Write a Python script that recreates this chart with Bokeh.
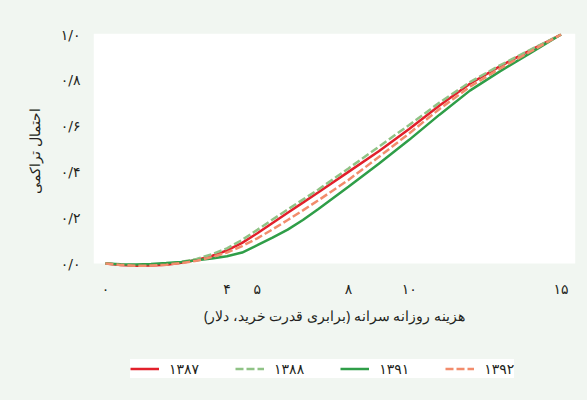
from bokeh.plotting import figure
from bokeh.layouts import column
from bokeh.models import FixedTicker, Legend, LegendItem, BoxAnnotation, Range1d
from bokeh.embed import file_html
from bokeh.resources import INLINE

# ---- data ----
x_vals = [0, 0.5, 1, 1.5, 2, 2.5, 3, 3.5, 4, 4.5, 5, 5.5, 6, 6.5, 7, 8, 9, 10, 11, 12, 13, 14, 15]
y_1387 = [0.0, -0.006, -0.010, -0.009, -0.005, 0.003, 0.015, 0.033, 0.057, 0.090, 0.132, 0.177,
          0.222, 0.266, 0.310, 0.400, 0.490, 0.587, 0.690, 0.785, 0.862, 0.932, 1.0]
y_1388 = [0.0, -0.005, -0.008, -0.006, -0.002, 0.007, 0.020, 0.040, 0.066, 0.103, 0.147, 0.192,
          0.236, 0.279, 0.322, 0.415, 0.510, 0.605, 0.703, 0.792, 0.866, 0.934, 1.0]
y_1391 = [0.0, -0.003, -0.004, -0.002, 0.002, 0.007, 0.014, 0.022, 0.032, 0.048, 0.080, 0.113,
          0.148, 0.190, 0.237, 0.335, 0.436, 0.540, 0.650, 0.755, 0.840, 0.920, 1.0]
y_1392 = [0.0, -0.006, -0.010, -0.009, -0.005, 0.002, 0.012, 0.028, 0.048, 0.076, 0.110, 0.149,
          0.190, 0.232, 0.275, 0.365, 0.465, 0.568, 0.675, 0.772, 0.852, 0.926, 1.0]

series_labels = ["۱۳۸۷", "۱۳۸۸", "۱۳۹۱", "۱۳۹۲"]

x_ticks = [0, 4, 5, 8, 10, 15]
x_tick_labels = ["۰", "۴", "۵", "۸", "۱۰", "۱۵"]
y_ticks = [0, 0.2, 0.4, 0.6, 0.8, 1]
y_tick_labels = ["۰/۰", "۰/۲", "۰/۴", "۰/۶", "۰/۸", "۱/۰"]

x_title = "هزینه روزانه سرانه (برابری قدرت خرید، دلار)"
y_title = "احتمال تراکمی"

# ---- style ----
FONT = "DejaVu Sans"
LFONT = "Noto Sans"
BG = "#f1f6f1"
TXT = "#231f20"
RED = "#e2202b"
LGREEN = "#90c386"
GREEN = "#2f9e48"
SALMON = "#f28c6c"
styles = [dict(line_color=RED, line_width=2.5),
          dict(line_color=LGREEN, line_width=2.5, line_dash="8 3"),
          dict(line_color=GREEN, line_width=2.5),
          dict(line_color=SALMON, line_width=2.5, line_dash="8 3")]
all_series = [y_1387, y_1388, y_1391, y_1392]

# ---- main chart ----
p = figure(width=587, height=338,
           x_range=Range1d(-0.395, 15.477), y_range=Range1d(-0.0218, 1.0044),
           output_backend="svg", toolbar_location=None,
           min_border_left=93, min_border_right=12, min_border_top=33, min_border_bottom=70)
p.background_fill_color = BG
p.border_fill_color = BG
p.outline_line_color = None
p.xgrid.visible = False
p.ygrid.visible = False

p.add_layout(BoxAnnotation(bottom=0, fill_color="white", fill_alpha=1.0,
                           line_color=None, level="underlay"))

for ys, st in zip(all_series, styles):
    p.line(x_vals, ys, **st)

xa = p.xaxis[0]
ya = p.yaxis[0]
xa.ticker = FixedTicker(ticks=x_ticks)
ya.ticker = FixedTicker(ticks=y_ticks)
xa.major_label_overrides = {t: l for t, l in zip(x_ticks, x_tick_labels)}
ya.major_label_overrides = {t: l for t, l in zip(y_ticks, y_tick_labels)}
xa.axis_label = x_title
ya.axis_label = y_title
for ax in (xa, ya):
    ax.axis_line_color = None
    ax.major_tick_line_color = None
    ax.minor_tick_line_color = None
    ax.major_label_text_font = FONT
    ax.major_label_text_font_size = "14px"
    ax.major_label_text_color = TXT
    ax.axis_label_text_font = LFONT
    ax.axis_label_text_font_size = "14px"
    ax.axis_label_text_font_style = "normal"
    ax.axis_label_text_color = TXT
xa.major_label_standoff = 6
xa.axis_label_standoff = 6
ya.major_label_standoff = 7
ya.axis_label_standoff = 14

# ---- legend strip (the series are drawn out of view; only the legend shows) ----
pl = figure(width=587, height=62, x_range=Range1d(100, 101), y_range=Range1d(100, 101),
            output_backend="svg", toolbar_location=None,
            x_axis_location=None, y_axis_location=None, min_border=0)
pl.background_fill_color = BG
pl.border_fill_color = BG
pl.outline_line_color = None
pl.xgrid.visible = False
pl.ygrid.visible = False
leg_renderers = [pl.line(x_vals, ys, **st) for ys, st in zip(all_series, styles)]
items = [LegendItem(label=lab, renderers=[r]) for lab, r in zip(series_labels, leg_renderers)]
legend = Legend(items=items, orientation="horizontal", location=(37, 22),
                background_fill_color="white", background_fill_alpha=1.0,
                border_line_color=None, label_text_font=FONT, label_text_font_size="14px",
                label_text_color=TXT, glyph_width=29, glyph_height=19, label_height=19,
                label_standoff=10, spacing=36, padding=9, margin=0)
pl.add_layout(legend, "center")

layout = column(p, pl, spacing=0, styles={"background-color": BG})
open("out.html", "w").write(file_html(layout, INLINE))
